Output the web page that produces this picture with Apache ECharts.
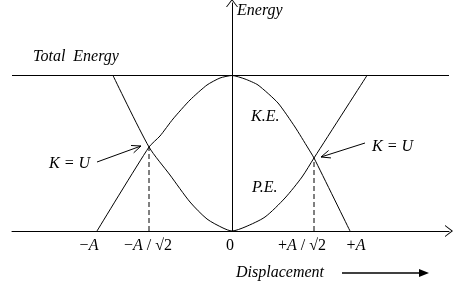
<!DOCTYPE html>
<html><head><meta charset="utf-8">
<script src="https://cdn.jsdelivr.net/npm/echarts@6/dist/echarts.min.js"></script>
<style>html,body{margin:0;padding:0;background:#fff}#c{width:457px;height:285px}</style>
</head><body><div id="c"></div>
<script>
// Data (x: displacement, y: energy; arbitrary sketch units)
const keX = [-13.5, -8.3, -7.2, -5.9, -4.2, -2.5, -1.2, 0, 1.3, 2.6, 4.6, 6.3, 7.6, 8.2, 11.8];
const keY = [0, 8.4, 9.5, 11.2, 13.1, 14.6, 15.3, 15.55, 15.2, 14.6, 12.8, 10.4, 8.3, 7.3, 0];
const peX = [-11.9, -8.3, -6.2, -4.2, -2.5, -0.9, 0, 1.3, 3.3, 5.3, 7.0, 8.2, 13.5];
const peY = [15.55, 8.4, 5.6, 2.9, 1.2, 0.3, 0, 0.4, 1.4, 3.3, 5.4, 7.3, 15.55];
const totalEnergy = 15.55;
const totalX = [-22, 21.7];
const crossX = [-8.3, 8.2];
const crossY = [8.4, 7.3];
const tickValues = [-14.3, -8.4, -0.2, 7.0, 12.4];
const tickLabels = ['−A', '−A / √2', '0', '+A / √2', '+A'];

const FONT = '"Liberation Serif", "Times New Roman", serif';
const pairs = (xs, ys) => xs.map((x, i) => [x, ys[i]]);

function richLabel(s) {
  const parts = s.split('A');
  let out = '';
  parts.forEach((p, i) => {
    if (p) out += '{n|' + p + '}';
    if (i < parts.length - 1) out += '{i|A}';
  });
  return out;
}

function arrow(x1, y1, x2, y2, len, ang) {
  const a = Math.atan2(y2 - y1, x2 - x1);
  const p1 = [x2 - len * Math.cos(a - ang), y2 - len * Math.sin(a - ang)];
  const p2 = [x2 - len * Math.cos(a + ang), y2 - len * Math.sin(a + ang)];
  return [
    {type: 'polyline', shape: {points: [[x1, y1], [x2, y2]]}, style: {stroke: '#000', lineWidth: 1, fill: null}, silent: true},
    {type: 'polyline', shape: {points: [p1, [x2, y2], p2]}, style: {stroke: '#000', lineWidth: 1, fill: null}, silent: true}
  ];
}

function txt(text, x, y) {
  return {type: 'text', x: x, y: y, silent: true,
    style: {text: text, font: 'italic 16px ' + FONT, fill: '#000', align: 'left', verticalAlign: 'middle'}};
}

const chevron = 'path://M0,8 L6,0 L12,8 L11,8 L6,1.6 L1,8 Z';

const chart = echarts.init(document.getElementById('c'), null, {renderer: 'canvas'});
chart.setOption({
  animation: false,
  backgroundColor: '#fff',
  grid: {left: 12, right: 8, top: 3, bottom: 54, containLabel: false},
  xAxis: {
    type: 'value', min: -22, max: 21.7,
    splitLine: {show: false},
    axisTick: {show: false},
    axisLine: {onZero: true, lineStyle: {color: '#000', width: 1}, symbol: ['none', chevron], symbolSize: [12, 8], symbolOffset: [0, 0]},
    axisLabel: {
      customValues: tickValues,
      margin: 7,
      fontFamily: FONT, fontSize: 16, color: '#000',
      formatter: function (v) {
        let idx = 0, best = 1e9;
        tickValues.forEach((t, i) => { if (Math.abs(t - v) < best) { best = Math.abs(t - v); idx = i; } });
        return richLabel(tickLabels[idx]);
      },
      rich: {
        n: {fontFamily: FONT, fontSize: 16, color: '#000'},
        i: {fontFamily: FONT, fontSize: 16, fontStyle: 'italic', color: '#000'}
      }
    }
  },
  yAxis: {
    type: 'value', min: 0, max: 22.8,
    name: 'Energy', nameLocation: 'end', nameGap: -8,
    nameTextStyle: {fontFamily: FONT, fontSize: 16, fontStyle: 'italic', color: '#000', align: 'left', verticalAlign: 'middle', padding: [0, 0, 0, 5]},
    splitLine: {show: false},
    axisTick: {show: false},
    axisLabel: {show: false},
    axisLine: {show: true, onZero: true, lineStyle: {color: '#000', width: 1}, symbol: ['none', chevron], symbolSize: [12, 8]}
  },
  series: [
    {name: 'Total Energy', type: 'line', data: pairs(totalX, totalX.map(() => totalEnergy)), symbol: 'none', silent: true,
      lineStyle: {color: '#000', width: 1}},
    {name: 'K.E.', type: 'line', data: pairs(keX, keY), symbol: 'none', smooth: 0.2, silent: true,
      lineStyle: {color: '#000', width: 1}},
    {name: 'P.E.', type: 'line', data: pairs(peX, peY), symbol: 'none', smooth: 0.25, silent: true,
      lineStyle: {color: '#000', width: 1}},
    {name: 'K=U left', type: 'line', data: [[crossX[0], 0], [crossX[0], crossY[0]]], symbol: 'none', silent: true,
      lineStyle: {color: '#000', width: 1, type: [5, 3]}},
    {name: 'K=U right', type: 'line', data: [[crossX[1], 0], [crossX[1], crossY[1]]], symbol: 'none', silent: true,
      lineStyle: {color: '#000', width: 1, type: [5, 3]}}
  ],
  graphic: [
    txt('Total  Energy', 33, 57),
    txt('K.E.', 251, 117),
    txt('P.E.', 252, 188),
    txt('K = U', 49, 164),
    txt('K = U', 372, 147),
    txt('Displacement', 236, 273),
    ...arrow(97, 162, 141, 146, 10, 0.4),
    ...arrow(365, 143, 321, 157, 10, 0.4),
    {type: 'line', shape: {x1: 342, y1: 273, x2: 421, y2: 273}, style: {stroke: '#000', lineWidth: 1.5}, silent: true},
    {type: 'polygon', shape: {points: [[429, 273], [419, 269], [419, 277]]}, style: {fill: '#000'}, silent: true}
  ]
});
</script>
</body></html>
